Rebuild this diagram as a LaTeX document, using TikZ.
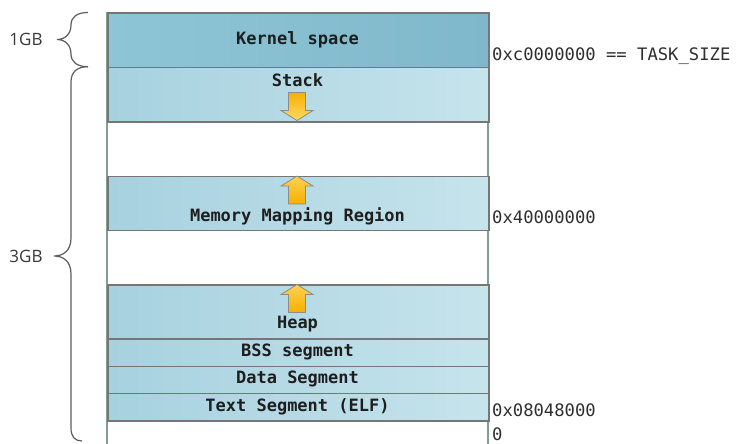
\documentclass[tikz,border=0pt]{standalone}
\usepackage{fontspec}
\setmainfont{Open Sans}
\newfontfamily\monofont{DejaVu Sans Mono}
\definecolor{segborder}{HTML}{767676}
\definecolor{edgegreen}{HTML}{7FA090}
\definecolor{kerA}{HTML}{8EC5D6}
\definecolor{kerB}{HTML}{80B8CB}
\definecolor{segA}{HTML}{A7D1DF}
\definecolor{segB}{HTML}{C6E4EC}
\definecolor{arrDark}{HTML}{F6B000}
\definecolor{arrLight}{HTML}{FFDA66}
\definecolor{bracecol}{HTML}{5C5C5C}
\definecolor{txtcol}{HTML}{1E1E1E}
\definecolor{addrcol}{HTML}{2E2E2E}
\tikzset{
  segbox/.style={draw=segborder, line width=1.6pt, minimum width=381pt, inner sep=0pt,
    anchor=north west, left color=segA, right color=segB},
  kernelbox/.style={segbox, left color=kerA, right color=kerB},
  seglabel/.style={font=\monofont\bfseries\fontsize{17}{20}\selectfont, text=txtcol, inner sep=0pt},
  addrlabel/.style={font=\monofont\fontsize{17.2}{20}\selectfont, text=addrcol, inner sep=0pt, anchor=west},
  gblabel/.style={font=\fontsize{17}{20}\selectfont, text=black!78, inner sep=0pt},
  bracepath/.style={draw=bracecol, line width=1.2pt},
  edgeline/.style={draw=edgegreen, line width=1.6pt},
  downarrow/.pic={
    \path[draw=black!45, line width=0.8pt, top color=arrDark, bottom color=arrLight]
      (0,0) -- (-16,-10) -- (-8.5,-10) -- (-8.5,-28) -- (8.5,-28) -- (8.5,-10) -- (16,-10) -- cycle;
  },
  uparrow/.pic={
    \path[draw=black!45, line width=0.8pt, top color=arrLight!80!arrDark, bottom color=arrDark]
      (0,0) -- (-16,10) -- (-8.5,10) -- (-8.5,28) -- (8.5,28) -- (8.5,10) -- (16,10) -- cycle;
  }
}
\begin{document}
\begin{tikzpicture}[x=1pt,y=-1pt]
\useasboundingbox (0,0) rectangle (736,444);
% outer side lines
\coordinate (lt) at (107,12.5);
\coordinate (lb) at (107,444);
\coordinate (rt) at (488,12.5);
\coordinate (rb) at (488,444);
\path[edgeline] (lt) -- (lb);
\path[edgeline] (rt) -- (rb);
% segments
\node[kernelbox, minimum height=54.2pt] (kernel) at (107,12.5) {};
\node[segbox, minimum height=54.3pt] (stack) at (107,66.7) {};
\node[segbox, minimum height=54pt] (mmr) at (107,175.5) {};
\node[segbox, minimum height=54.3pt] (heap) at (107,284) {};
\node[segbox, minimum height=27.2pt] (bss) at (107,338.3) {};
\node[segbox, minimum height=27.2pt] (data) at (107,365.5) {};
\node[segbox, minimum height=27.3pt] (text) at (107,392.7) {};
% segment labels
\node[seglabel] (kl) at (297.5,39.5) {Kernel space};
\node[seglabel] (sl) at (297.5,80) {Stack};
\node[seglabel] (ml) at (297.5,216) {Memory Mapping Region};
\node[seglabel] (hl) at (297.5,324.5) {Heap};
\node[seglabel] (bl) at (297.5,352) {BSS segment};
\node[seglabel] (dl) at (297.5,379) {Data Segment};
\node[seglabel] (tl) at (297.5,406.5) {Text Segment (ELF)};
% growth arrows
\pic at (297,120.5) {downarrow};
\pic at (297,176) {uparrow};
\pic at (297,284.5) {uparrow};
% address labels
\node[addrlabel] (a1) at (492,56) {0xc0000000 == TASK\_SIZE};
\node[addrlabel] (a2) at (492,217.5) {0x40000000};
\node[addrlabel] (a3) at (492,410.5) {0x08048000};
\node[addrlabel] (a4) at (492,434) {0};
% braces
\path[bracepath] (88,12.5) .. controls (77,12.5) and (71,17) .. (71,25)
  .. controls (71,33) and (66,39.5) .. (57,39.5)
  .. controls (66,39.5) and (71,46) .. (71,54)
  .. controls (71,62) and (77,66.7) .. (88,66.7);
\path[bracepath] (88,66.7) .. controls (77,66.7) and (71,72) .. (71,82)
  -- (71,238) .. controls (71,250) and (64,256) .. (54,256)
  .. controls (64,256) and (71,262) .. (71,274)
  -- (71,428) .. controls (71,437) and (75,441) .. (82,441);
\node[gblabel] (g1) at (26,39.5) {1GB};
\node[gblabel] (g2) at (26,256) {3GB};
\end{tikzpicture}
\end{document}
